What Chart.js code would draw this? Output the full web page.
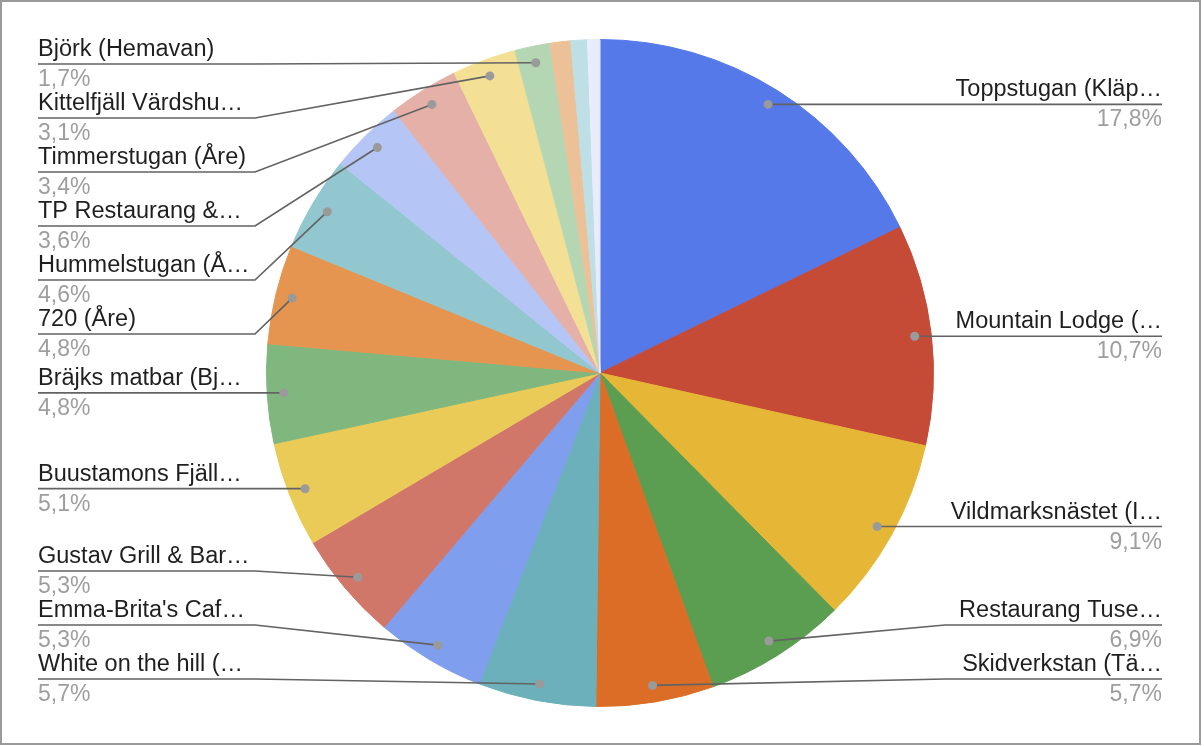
<!DOCTYPE html>
<html lang="sv">
<head>
<meta charset="UTF-8">
<title>Restauranger</title>
<script src="https://cdn.jsdelivr.net/npm/chart.js"></script>
<style>
    body { margin: 0; background: #fff; }
    #wrap { width: 1204px; height: 746px; }
</style>
</head>
<body>
<div id="wrap"><canvas id="pie" width="1204" height="746"></canvas></div>
<script>
// slices, clockwise from 12 o'clock
const names = [
    'Toppstugan (Kläp…', 'Mountain Lodge (…', 'Vildmarksnästet (I…', 'Restaurang Tuse…',
    'Skidverkstan (Tä…', 'White on the hill (…', "Emma-Brita's Caf…", 'Gustav Grill & Bar…',
    'Buustamons Fjäll…', 'Bräjks matbar (Bj…', '720 (Åre)', 'Hummelstugan (Å…',
    'TP Restaurang &…', 'Timmerstugan (Åre)', 'Kittelfjäll Värdshu…', 'Björk (Hemavan)',
    'Övrigt 1', 'Övrigt 2', 'Övrigt 3'
];
const shares = [17.8, 10.7, 9.1, 6.9, 5.7, 5.7, 5.3, 5.3, 5.1, 4.8, 4.8, 4.6, 3.6, 3.4, 3.1, 1.7, 1.0, 0.8, 0.6];
const colors = [
    '#5579e9', '#c54b37', '#e6b636', '#5b9d51', '#dc6d26', '#6bb0ba', '#7f9eee', '#d0776a',
    '#ebcb58', '#80b77e', '#e5954f', '#92c7cf', '#b5c6f6', '#e5b0a8', '#f4e095', '#b4d6b3',
    '#edc197', '#bedfe5', '#e8ecfb'
];

const total = shares.reduce((a, b) => a + b, 0);

const pieLabels = {
    id: 'pieLabels',
    beforeDraw(chart) {
        const ctx = chart.ctx;
        ctx.save();
        ctx.strokeStyle = '#9a9a9a';
        ctx.lineWidth = 2;
        ctx.strokeRect(1, 1, 1199, 743);
        ctx.restore();
    },
    afterDatasetsDraw(chart) {
        const ctx = chart.ctx;
        const arcs = chart.getDatasetMeta(0).data;
        const left = [], right = [];
        arcs.forEach((arc, i) => {
            if (shares[i] / total * 100 < 1.5) return;
            const p = arc.getProps(['x', 'y', 'startAngle', 'endAngle', 'outerRadius'], true);
            const mid = (p.startAngle + p.endAngle) / 2;
            const r = p.outerRadius * 0.95;
            const dot = { x: p.x + Math.cos(mid) * r, y: p.y + Math.sin(mid) * r };
            (Math.cos(mid) >= 0 ? right : left).push({ i, dot, y: dot.y });
        });

        const top = 64, bottom = 679, gap = 54;
        function spread(list) {
            list.sort((a, b) => a.dot.y - b.dot.y);
            list.forEach((it, k) => {
                it.y = Math.min(Math.max(it.y, top), bottom);
                if (k > 0) it.y = Math.max(it.y, list[k - 1].y + gap);
            });
            for (let k = list.length - 1; k >= 0; k--) {
                const lim = k === list.length - 1 ? bottom : list[k + 1].y - gap;
                list[k].y = Math.min(list[k].y, lim);
            }
        }
        spread(left);
        spread(right);

        ctx.save();
        const draw = (it, side) => {
            const ly = it.y;
            const tx = side === 'left' ? 38 : 1162;
            const bend = side === 'left' ? 255 : 945;
            ctx.strokeStyle = '#636363';
            ctx.lineWidth = 1.7;
            ctx.beginPath();
            ctx.moveTo(tx, ly);
            ctx.lineTo(bend, ly);
            ctx.lineTo(it.dot.x, it.dot.y);
            ctx.stroke();
            ctx.fillStyle = '#9a9a9a';
            ctx.beginPath();
            ctx.arc(it.dot.x, it.dot.y, 4.5, 0, Math.PI * 2);
            ctx.fill();
            ctx.textAlign = side === 'left' ? 'left' : 'right';
            ctx.textBaseline = 'alphabetic';
            ctx.font = '23.5px "Liberation Sans", Arial, sans-serif';
            ctx.fillStyle = '#1f1f1f';
            ctx.fillText(names[it.i], tx, ly - 8);
            ctx.font = '23px "Liberation Sans", Arial, sans-serif';
            ctx.fillStyle = '#9e9e9e';
            const pct = (shares[it.i] / total * 100).toFixed(1).replace('.', ',') + '%';
            ctx.fillText(pct, tx, ly + 22);
        };
        left.forEach(it => draw(it, 'left'));
        right.forEach(it => draw(it, 'right'));
        ctx.restore();
    }
};

new Chart(document.getElementById('pie'), {
    type: 'pie',
    data: {
        labels: names,
        datasets: [{
            data: shares,
            backgroundColor: colors,
            borderColor: colors,
            borderWidth: 1,
            radius: 333.5
        }]
    },
    options: {
        responsive: false,
        animation: false,
        layout: { padding: { left: 0, right: 4, top: 0, bottom: 0 } },
        plugins: {
            legend: { display: false },
            tooltip: { enabled: false }
        }
    },
    plugins: [pieLabels]
});
</script>
</body>
</html>
